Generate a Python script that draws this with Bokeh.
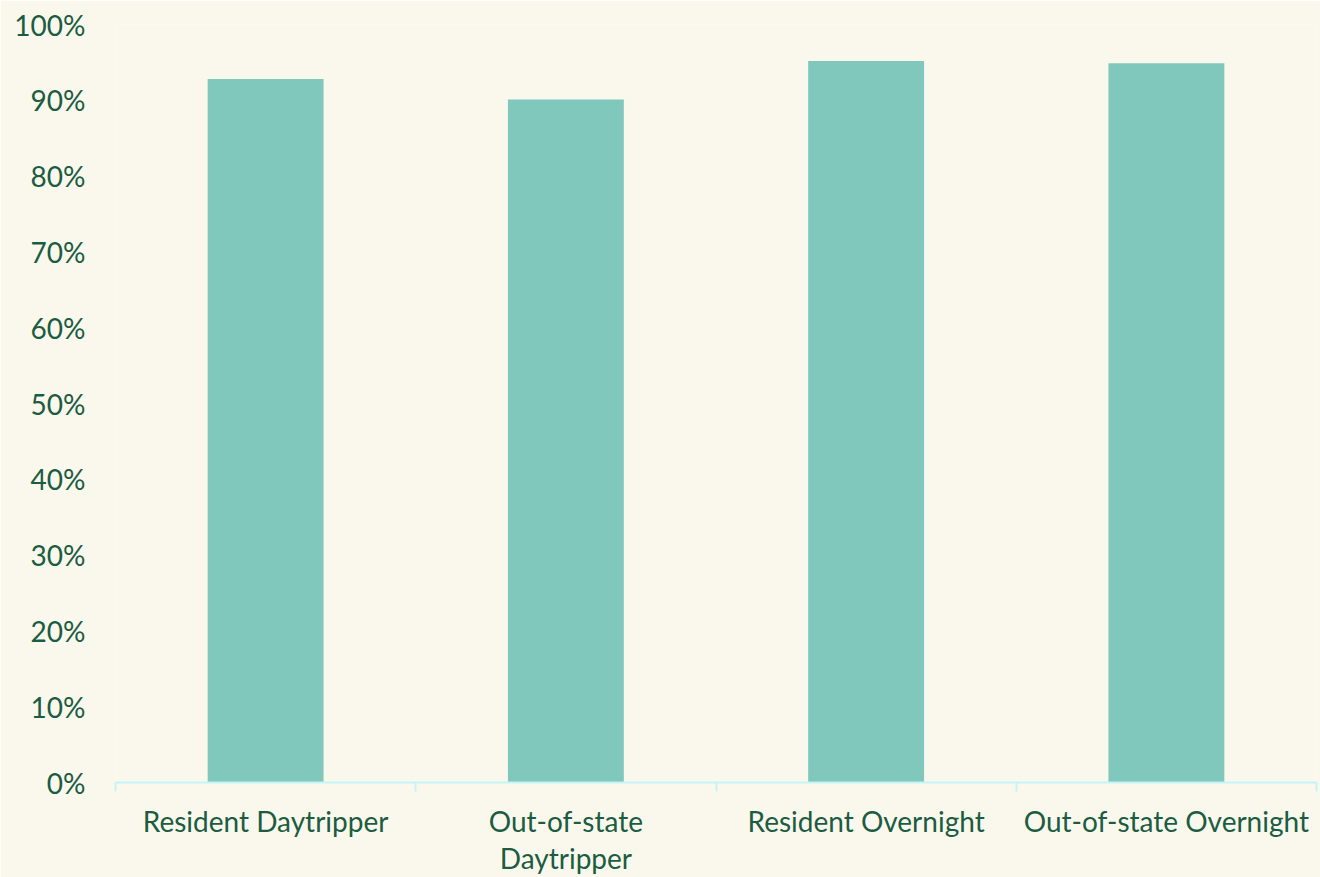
from bokeh.plotting import figure
from bokeh.models import FixedTicker, NumeralTickFormatter, Range1d
from bokeh.embed import file_html
from bokeh.resources import INLINE

categories = ["Resident Daytripper", "Out-of-state\nDaytripper", "Resident Overnight", "Out-of-state Overnight"]
values = [0.928, 0.901, 0.952, 0.949]
y_ticks = [0, 0.1, 0.2, 0.3, 0.4, 0.5, 0.6, 0.7, 0.8, 0.9, 1.0]

BG = "#FAF8EC"
BAR = "#80C8BB"
TXT = "#1B5C42"
AXIS = "#C4F4F6"
FONT = "Lato"
FS = "28px"

x_centers = [i + 0.5 for i in range(len(categories))]
boundaries = [float(i) for i in range(len(categories) + 1)]

p = figure(width=1320, height=877, output_backend="svg", toolbar_location=None,
           x_range=Range1d(0, len(categories)), y_range=Range1d(0, 1.0),
           min_border_left=115, min_border_right=4, min_border_top=24, min_border_bottom=94)
p.background_fill_color = BG
p.border_fill_color = BG
p.outline_line_color = None
p.grid.visible = False

p.vbar(x=x_centers, top=values, width=0.386, color=BAR, line_color=None)

xa = p.xaxis[0]
xa.ticker = FixedTicker(ticks=x_centers, minor_ticks=boundaries)
xa.major_label_overrides = {c: lab for c, lab in zip(x_centers, categories)}
xa.axis_line_color = AXIS
xa.axis_line_width = 2
xa.major_tick_line_color = None
xa.minor_tick_line_color = AXIS
xa.minor_tick_line_width = 2
xa.minor_tick_in = 0
xa.minor_tick_out = 9
xa.major_label_text_color = TXT
xa.major_label_text_font = FONT
xa.major_label_text_font_size = FS
xa.major_label_text_line_height = 1.1
xa.major_label_standoff = 12

ya = p.yaxis[0]
ya.ticker = FixedTicker(ticks=y_ticks, minor_ticks=[])
ya.formatter = NumeralTickFormatter(format="0%")
ya.axis_line_color = None
ya.major_tick_line_color = None
ya.minor_tick_line_color = None
ya.major_label_text_color = TXT
ya.major_label_text_font = FONT
ya.major_label_text_font_size = FS
ya.major_label_standoff = 24

open("out.html", "w").write(file_html(p, INLINE))
